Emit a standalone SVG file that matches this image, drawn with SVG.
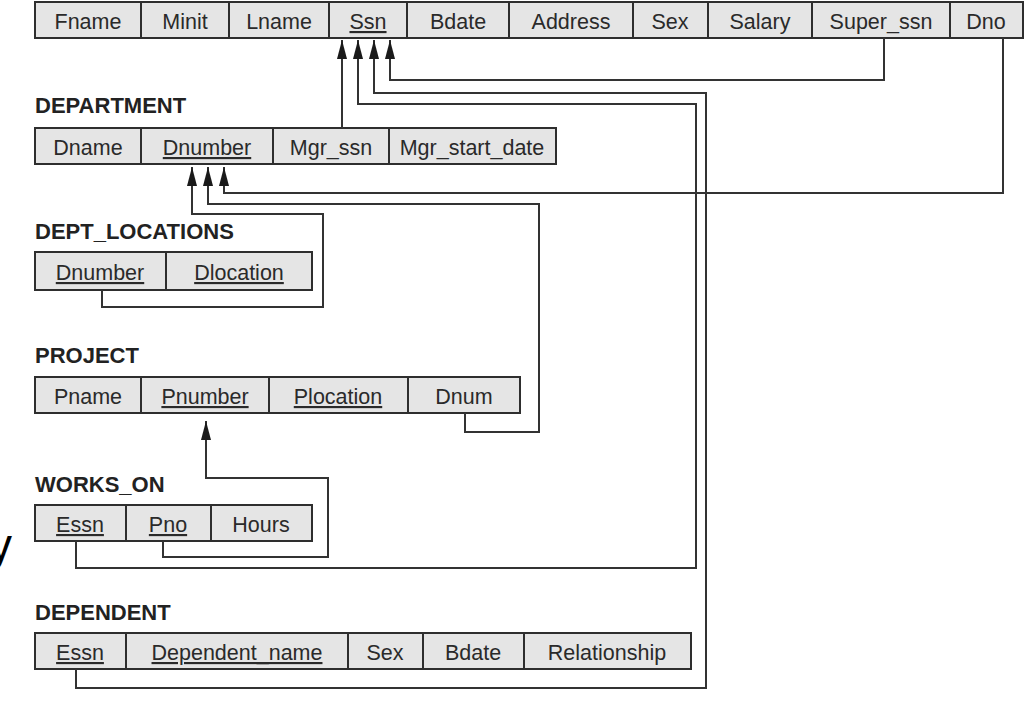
<svg xmlns="http://www.w3.org/2000/svg" width="1028" height="706" viewBox="0 0 1028 706">
<style>
.cell{fill:#e5e5e5;stroke:#2e2e2e;stroke-width:2}
.div{stroke:#2e2e2e;stroke-width:2}
.t{font-family:"Liberation Sans",Arial,sans-serif;font-size:21.5px;fill:#2a2a2a;text-anchor:middle}
.k{text-decoration:underline}
.lbl{font-family:"Liberation Sans",Arial,sans-serif;font-size:22px;font-weight:bold;fill:#222}
.c{fill:none;stroke:#333;stroke-width:2}
</style>
<defs>
<marker id="arr" viewBox="0 0 19 10" refX="19" refY="5" markerWidth="19" markerHeight="10" markerUnits="userSpaceOnUse" orient="auto">
<path d="M0,0 L19,5 L0,10 z" fill="#1a1a1a"/>
</marker>
</defs>
<rect width="1028" height="706" fill="#fff"/>
<text x="-11" y="561" font-family="Liberation Sans,Arial,sans-serif" font-size="46" fill="#000">y</text>

<g id="employee">
<rect class="cell" x="35" y="2" width="988" height="36"/>
<line class="div" x1="141" y1="2" x2="141" y2="38"/>
<line class="div" x1="229" y1="2" x2="229" y2="38"/>
<line class="div" x1="329" y1="2" x2="329" y2="38"/>
<line class="div" x1="407" y1="2" x2="407" y2="38"/>
<line class="div" x1="509" y1="2" x2="509" y2="38"/>
<line class="div" x1="633" y1="2" x2="633" y2="38"/>
<line class="div" x1="708" y1="2" x2="708" y2="38"/>
<line class="div" x1="812" y1="2" x2="812" y2="38"/>
<line class="div" x1="950" y1="2" x2="950" y2="38"/>
<text class="t" x="88" y="29">Fname</text>
<text class="t" x="185" y="29">Minit</text>
<text class="t" x="279" y="29">Lname</text>
<text class="t k" x="368" y="29">Ssn</text>
<text class="t" x="458" y="29">Bdate</text>
<text class="t" x="571" y="29">Address</text>
<text class="t" x="670" y="29">Sex</text>
<text class="t" x="760" y="29">Salary</text>
<text class="t" x="881" y="29">Super_ssn</text>
<text class="t" x="986" y="29">Dno</text>
</g>

<g id="department">
<text class="lbl" x="35" y="113">DEPARTMENT</text>
<rect class="cell" x="35" y="128" width="521" height="36"/>
<line class="div" x1="141" y1="128" x2="141" y2="164"/>
<line class="div" x1="273" y1="128" x2="273" y2="164"/>
<line class="div" x1="389" y1="128" x2="389" y2="164"/>
<text class="t" x="88" y="155">Dname</text>
<text class="t k" x="207" y="155">Dnumber</text>
<text class="t" x="331" y="155">Mgr_ssn</text>
<text class="t" x="472" y="155">Mgr_start_date</text>
</g>

<g id="dept_locations">
<text class="lbl" x="35" y="239">DEPT_LOCATIONS</text>
<rect class="cell" x="35" y="252" width="277" height="38"/>
<line class="div" x1="166" y1="252" x2="166" y2="290"/>
<text class="t k" x="100" y="280">Dnumber</text>
<text class="t k" x="239" y="280">Dlocation</text>
</g>

<g id="project">
<text class="lbl" x="35" y="363">PROJECT</text>
<rect class="cell" x="35" y="377" width="485" height="36"/>
<line class="div" x1="141" y1="377" x2="141" y2="413"/>
<line class="div" x1="269" y1="377" x2="269" y2="413"/>
<line class="div" x1="408" y1="377" x2="408" y2="413"/>
<text class="t" x="88" y="404">Pname</text>
<text class="t k" x="205" y="404">Pnumber</text>
<text class="t k" x="338" y="404">Plocation</text>
<text class="t" x="464" y="404">Dnum</text>
</g>

<g id="works_on">
<text class="lbl" x="35" y="492">WORKS_ON</text>
<rect class="cell" x="35" y="505" width="277" height="36"/>
<line class="div" x1="126" y1="505" x2="126" y2="541"/>
<line class="div" x1="211" y1="505" x2="211" y2="541"/>
<text class="t k" x="80" y="532">Essn</text>
<text class="t k" x="168" y="532">Pno</text>
<text class="t" x="261" y="532">Hours</text>
</g>

<g id="dependent">
<text class="lbl" x="35" y="620">DEPENDENT</text>
<rect class="cell" x="35" y="633" width="656" height="36"/>
<line class="div" x1="126" y1="633" x2="126" y2="669"/>
<line class="div" x1="348" y1="633" x2="348" y2="669"/>
<line class="div" x1="423" y1="633" x2="423" y2="669"/>
<line class="div" x1="524" y1="633" x2="524" y2="669"/>
<text class="t k" x="80" y="660">Essn</text>
<text class="t k" x="237" y="660">Dependent_name</text>
<text class="t" x="385" y="660">Sex</text>
<text class="t" x="473" y="660">Bdate</text>
<text class="t" x="607" y="660">Relationship</text>
</g>

<g id="connectors">
<path class="c" d="M884,38 V80 H390 V40" marker-end="url(#arr)"/>
<path class="c" d="M76,669 V688 H706 V93 H374 V40" marker-end="url(#arr)"/>
<path class="c" d="M76,541 V568 H696 V104 H358 V40" marker-end="url(#arr)"/>
<path class="c" d="M342,128 V40" marker-end="url(#arr)"/>
<path class="c" d="M1003,38 V193 H224 V167" marker-end="url(#arr)"/>
<path class="c" d="M465,413 V432 H539 V204 H208 V167" marker-end="url(#arr)"/>
<path class="c" d="M102,290 V307 H323 V214 H192 V167" marker-end="url(#arr)"/>
<path class="c" d="M163,541 V557 H328 V478 H206 V421" marker-end="url(#arr)"/>
</g>
</svg>
